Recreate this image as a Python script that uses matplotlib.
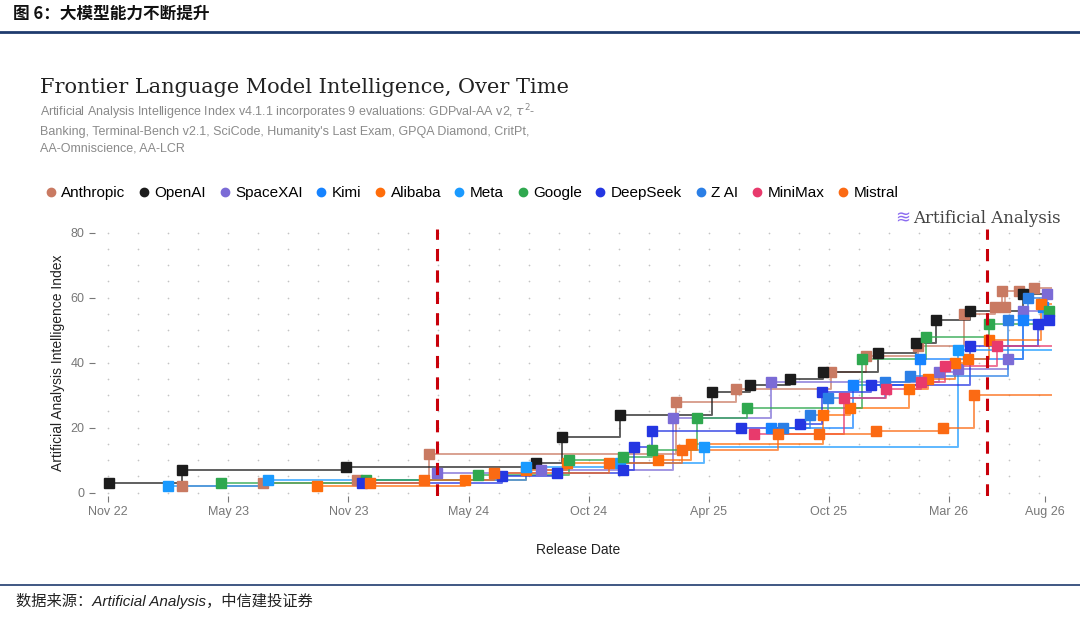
import numpy as np
import matplotlib.pyplot as plt

plt.rcParams['font.family'] = ['Liberation Sans', 'Noto Sans CJK SC', 'DejaVu Sans']

# Release position (tenths of a tick span from Nov 22) and intelligence index per lab
labs = {
    'Anthropic': ('#c97a62', [(6.1, 2), (12.9, 3), (20.7, 4), (26.7, 12), (47.3, 28), (52.3, 32), (60.2, 37), (63.1, 42),
                              (67.4, 45), (71.3, 55), (73.8, 57), (74.4, 62), (74.7, 57), (75.8, 62), (77.1, 63)]),
    'OpenAI': ('#1c1c1c', [(0.1, 3), (6.1, 7), (19.8, 8), (35.6, 9), (37.8, 17), (42.6, 24), (50.3, 31), (53.4, 33),
                           (56.8, 35), (59.5, 37), (64.1, 43), (67.3, 46), (68.9, 53), (71.8, 56), (76.2, 61)]),
    'SpaceXAI': ('#7b6bd6', [(27.4, 6), (36.0, 7), (47.0, 23), (55.2, 34), (69.2, 37), (70.8, 38), (74.9, 41),
                             (76.2, 56), (78.2, 61)]),
    'Kimi': ('#1683ff', [(55.2, 20), (62.0, 33), (67.6, 41), (76.2, 53), (77.8, 57)]),
    'Alibaba': ('#ff6d0a', [(17.4, 2), (29.7, 4), (34.8, 7), (38.2, 9), (45.8, 10), (48.5, 15), (59.5, 24), (61.8, 26),
                            (66.7, 32), (68.3, 35), (70.5, 40), (71.6, 41), (73.3, 47), (77.7, 58)]),
    'Meta': ('#1a9aff', [(5.0, 2), (13.3, 4), (34.8, 8), (42.6, 9), (49.6, 14), (70.8, 44)]),
    'Google': ('#2fa84f', [(9.4, 3), (21.5, 4), (30.8, 5.5), (38.4, 10), (42.9, 11), (45.3, 13), (49.0, 23), (53.2, 26),
                           (62.8, 41), (68.1, 48), (73.3, 52), (78.3, 56)]),
    'DeepSeek': ('#2436e2', [(21.1, 3), (32.8, 5), (37.4, 6), (42.9, 7), (43.8, 14), (45.3, 19), (52.7, 20), (57.6, 21),
                             (59.4, 31), (63.5, 33), (71.8, 45), (77.4, 52), (78.3, 53)]),
    'Z AI': ('#2b7fe6', [(56.2, 20), (58.4, 24), (59.9, 29), (64.7, 34), (66.8, 36), (74.9, 53), (76.6, 60)]),
    'MiniMax': ('#e83a6c', [(53.8, 18), (61.3, 29), (64.8, 32), (67.7, 34), (69.7, 39), (74.0, 45)]),
    'Mistral': ('#fb6a14', [(21.8, 3), (26.3, 4), (32.1, 6), (41.7, 9), (47.8, 13), (55.8, 18), (59.2, 18), (63.9, 19),
                            (69.5, 20), (72.1, 30)]),
}
ticks = [0, 10, 20, 30, 40, 50, 60, 70, 78]
tick_labels = ['Nov 22', 'May 23', 'Nov 23', 'May 24', 'Oct 24', 'Apr 25', 'Oct 25', 'Mar 26', 'Aug 26']
x_end = 78.5

fig = plt.figure(figsize=(10.8, 6.2), dpi=100)

# Report header and footer
fig.text(0.012, 0.993, '图 6：大模型能力不断提升', fontsize=12, fontweight='bold', va='top', color='#111111',
         family=['Noto Sans CJK SC'])
fig.add_artist(plt.Line2D([0.0, 1.0], [0.948, 0.948], color='#1f3b6e', lw=2))
fig.add_artist(plt.Line2D([0.0, 1.0], [0.057, 0.057], color='#1f3b6e', lw=1.2))
fig.text(0.015, 0.022, '数据来源：Artificial Analysis，中信建投证券', fontsize=11, style='italic', color='#222222')

# Chart title block
fig.text(0.037, 0.85, 'Frontier Language Model Intelligence, Over Time', fontsize=15, family='DejaVu Serif',
         color='#222222')
fig.text(0.037, 0.835, 'Artificial Analysis Intelligence Index v4.1.1 incorporates 9 evaluations: GDPval-AA v2, $\\tau^2$-\n'
         'Banking, Terminal-Bench v2.1, SciCode, Humanity\'s Last Exam, GPQA Diamond, CritPt,\n'
         'AA-Omniscience, AA-LCR', fontsize=9, color='#8a8a8a', va='top', linespacing=1.5)
fig.text(0.843, 0.64, '≋', fontsize=13, family='DejaVu Sans', color='#8b6cf0', ha='right')
fig.text(0.982, 0.64, 'Artificial Analysis', fontsize=12, family='DejaVu Serif', color='#444444', ha='right')

ax = fig.add_axes([0.088, 0.2, 0.894, 0.43])

# Dot grid
gx, gy = np.meshgrid(np.arange(0, 79, 2.5), np.arange(0, 81, 5))
ax.scatter(gx.ravel(), gy.ravel(), s=1.5, color='#c4c4c4', zorder=1, linewidths=0)

# Step frontier per lab plus its releases
handles = []
for name, (color, pts) in labs.items():
    xs = np.array([p[0] for p in pts])
    ys = np.array([p[1] for p in pts])
    best = np.maximum.accumulate(ys)
    ax.step(np.append(xs, x_end), np.append(best, best[-1]), where='post', color=color, lw=1.4, alpha=0.7, zorder=2)
    ax.vlines(xs, ys, best, color=color, lw=1.2, alpha=0.7, zorder=2)
    ax.plot(xs, ys, 's', color=color, ms=7, zorder=3)
    handles.append(plt.Line2D([], [], marker='o', ls='', color=color, ms=6, label=name))

# Red reference lines
for xv in [27.4, 73.2]:
    ax.axvline(xv, color='#c8000a', lw=2.2, ls=(0, (4, 3)), zorder=4)

ax.set_xlim(-1.1, 79.3)
ax.set_ylim(-1, 81)
ax.set_xticks(ticks)
ax.set_xticklabels(tick_labels)
ax.set_yticks([0, 20, 40, 60, 80])
ax.tick_params(colors='#777777', labelsize=9, length=4)
for s in ax.spines.values():
    s.set_visible(False)
ax.set_xlabel('Release Date', fontsize=10, color='#222222', labelpad=18)
ax.set_ylabel('Artificial Analysis Intelligence Index', fontsize=10, color='#222222')

fig.legend(handles=handles, loc='upper left', bbox_to_anchor=(0.03, 0.722), ncol=11, frameon=False, fontsize=11,
           handlelength=0.6, handletextpad=0.4, columnspacing=0.9)

fig.savefig('out.png', dpi=100)
